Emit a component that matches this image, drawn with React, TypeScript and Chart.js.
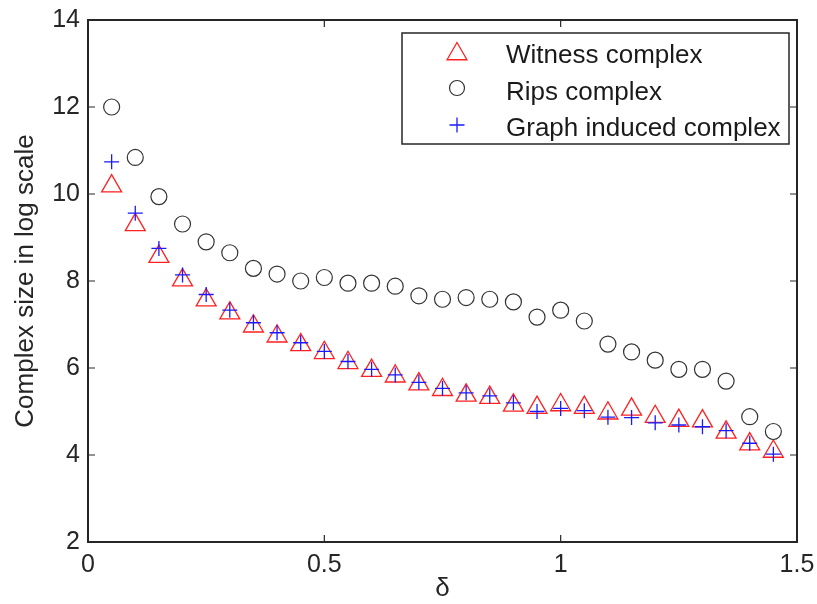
import React, { useEffect, useRef } from "react";
import { Chart, registerables } from "chart.js";

Chart.register(...registerables);

const deltas = [
  0.05, 0.1, 0.15, 0.2, 0.25, 0.3, 0.35, 0.4, 0.45, 0.5, 0.55, 0.6, 0.65, 0.7, 0.75,
  0.8, 0.85, 0.9, 0.95, 1.0, 1.05, 1.1, 1.15, 1.2, 1.25, 1.3, 1.35, 1.4, 1.45,
];
const witness = [
  10.18, 9.29, 8.56, 8.02, 7.56, 7.26, 6.96, 6.73, 6.53, 6.35, 6.12, 5.94, 5.81, 5.63, 5.5,
  5.37, 5.32, 5.14, 5.09, 5.15, 5.09, 4.96, 5.05, 4.88, 4.79, 4.78, 4.52, 4.25, 4.08,
];
const rips = [
  12.0, 10.84, 9.94, 9.31, 8.9, 8.65, 8.29, 8.16, 8.0, 8.08, 7.95, 7.95, 7.88, 7.66, 7.58,
  7.62, 7.58, 7.52, 7.17, 7.33, 7.08, 6.55, 6.37, 6.18, 5.97, 5.97, 5.7, 4.88, 4.54,
];
const gic = [
  10.74, 9.56, 8.75, 8.14, 7.69, 7.33, 7.04, 6.81, 6.58, 6.38, 6.15, 5.97, 5.84, 5.67, 5.53,
  5.43, 5.36, 5.2, 5.0, 5.07, 5.02, 4.87, 4.86, 4.74, 4.69, 4.65, 4.56, 4.27, 4.02,
];
const seriesLabels = ["Witness complex", "Rips complex", "Graph induced complex"];
const xTicks = [0, 0.5, 1, 1.5];
const yTicks = [2, 4, 6, 8, 10, 12, 14];

const FONT = "'Liberation Sans', Arial, sans-serif";
const INK = "#262626";
const RED = "#ff2020";
const GRAY = "#333333";
const BLUE = "#1a1aff";

function drawTriangle(ctx: CanvasRenderingContext2D, x: number, y: number, r: number) {
  ctx.beginPath();
  ctx.moveTo(x, y - r);
  ctx.lineTo(x + r * Math.sin((2 * Math.PI) / 3), y - r * Math.cos((2 * Math.PI) / 3));
  ctx.lineTo(x + r * Math.sin((4 * Math.PI) / 3), y - r * Math.cos((4 * Math.PI) / 3));
  ctx.closePath();
  ctx.stroke();
}
function drawCircle(ctx: CanvasRenderingContext2D, x: number, y: number, r: number) {
  ctx.beginPath();
  ctx.arc(x, y, r, 0, Math.PI * 2);
  ctx.stroke();
}
function drawPlus(ctx: CanvasRenderingContext2D, x: number, y: number, r: number) {
  ctx.beginPath();
  ctx.moveTo(x - r, y);
  ctx.lineTo(x + r, y);
  ctx.moveTo(x, y - r);
  ctx.lineTo(x, y + r);
  ctx.stroke();
}

const framePlugin = {
  id: "frame",
  afterDatasetsDraw(chart: any) {
    const { ctx, chartArea } = chart;
    const { left, right, top, bottom } = chartArea;
    const xs = chart.scales.x;
    const ys = chart.scales.y;
    ctx.save();
    ctx.strokeStyle = INK;
    ctx.lineWidth = 2;
    ctx.strokeRect(left, top, right - left, bottom - top);
    ctx.lineWidth = 1.2;
    ctx.beginPath();
    const tl = 7;
    xTicks.forEach((v) => {
      const px = xs.getPixelForValue(v);
      ctx.moveTo(px, bottom);
      ctx.lineTo(px, bottom - tl);
      ctx.moveTo(px, top);
      ctx.lineTo(px, top + tl);
    });
    yTicks.forEach((v) => {
      const py = ys.getPixelForValue(v);
      ctx.moveTo(left, py);
      ctx.lineTo(left + tl, py);
      ctx.moveTo(right, py);
      ctx.lineTo(right - tl, py);
    });
    ctx.stroke();
    ctx.restore();
  },
};

const legendPlugin = {
  id: "boxLegend",
  afterDraw(chart: any) {
    const ctx: CanvasRenderingContext2D = chart.ctx;
    ctx.save();
    const bx = 402, by = 33, bw = 387, bh = 111;
    ctx.fillStyle = "#ffffff";
    ctx.fillRect(bx, by, bw, bh);
    ctx.strokeStyle = INK;
    ctx.lineWidth = 1.5;
    ctx.strokeRect(bx, by, bw, bh);
    const mx = 457;
    ctx.lineWidth = 1.3;
    ctx.strokeStyle = RED;
    drawTriangle(ctx, mx, 54, 11.5);
    ctx.strokeStyle = GRAY;
    ctx.lineWidth = 1.2;
    drawCircle(ctx, mx, 88, 7.5);
    ctx.strokeStyle = BLUE;
    ctx.lineWidth = 1.3;
    drawPlus(ctx, mx, 125, 7.5);
    ctx.fillStyle = "#1a1a1a";
    ctx.font = `26px ${FONT}`;
    ctx.textBaseline = "alphabetic";
    ctx.textAlign = "left";
    const baselines = [63, 99.5, 136];
    seriesLabels.forEach((s, i) => ctx.fillText(s, 506, baselines[i]));
    ctx.restore();
  },
};

export default function App() {
  const ref = useRef<HTMLCanvasElement | null>(null);
  useEffect(() => {
    if (!ref.current) return;
    const mk = (ys: number[]) => deltas.map((x, i) => ({ x, y: ys[i] }));
    const chart = new Chart(ref.current, {
      type: "scatter",
      data: {
        datasets: [
          {
            label: seriesLabels[0],
            data: mk(witness),
            pointStyle: "triangle",
            pointRadius: 11.5,
            pointHoverRadius: 11.5,
            borderColor: RED,
            backgroundColor: "rgba(0,0,0,0)",
            pointBorderWidth: 1.3,
            order: 2,
          },
          {
            label: seriesLabels[1],
            data: mk(rips),
            pointStyle: "circle",
            pointRadius: 8,
            pointHoverRadius: 8,
            borderColor: GRAY,
            backgroundColor: "rgba(0,0,0,0)",
            pointBorderWidth: 1.2,
            order: 1,
          },
          {
            label: seriesLabels[2],
            data: mk(gic),
            pointStyle: "cross",
            pointRadius: 7.5,
            pointHoverRadius: 7.5,
            borderColor: BLUE,
            backgroundColor: "rgba(0,0,0,0)",
            pointBorderWidth: 1.3,
            order: 0,
          },
        ],
      },
      options: {
        animation: false,
        responsive: false,
        devicePixelRatio: 1,
        layout: { padding: { left: 0, top: 20, right: 20, bottom: 0 } },
        plugins: {
          legend: { display: false },
          tooltip: { enabled: false },
        },
        scales: {
          x: {
            type: "linear",
            min: 0,
            max: 1.5,
            afterBuildTicks: (s: any) => {
              s.ticks = xTicks.map((v) => ({ value: v }));
            },
            afterFit: (s: any) => {
              s.height = 62;
              s.paddingLeft = 0;
              s.paddingRight = 0;
            },
            grid: { display: false, drawTicks: false },
            border: { display: false },
            ticks: {
              padding: 8,
              color: INK,
              font: { family: FONT, size: 25 },
              maxRotation: 0,
              autoSkip: false,
              callback: (v: any) => String(v),
            },
            title: {
              display: true,
              text: "δ",
              color: INK,
              font: { family: FONT, size: 26 },
              padding: { top: 0, bottom: 0 },
            },
          },
          y: {
            type: "linear",
            min: 2,
            max: 14,
            afterBuildTicks: (s: any) => {
              s.ticks = yTicks.map((v) => ({ value: v }));
            },
            afterFit: (s: any) => {
              s.width = 88;
              s.paddingTop = 0;
              s.paddingBottom = 0;
            },
            grid: { display: false, drawTicks: false },
            border: { display: false },
            ticks: {
              padding: 8,
              color: INK,
              font: { family: FONT, size: 25 },
              autoSkip: false,
              callback: (v: any) => String(v),
            },
            title: {
              display: true,
              text: "Complex size in log scale",
              color: INK,
              font: { family: FONT, size: 26 },
              padding: { top: 10, bottom: 0 },
            },
          },
        },
      },
      plugins: [framePlugin, legendPlugin],
    });
    return () => chart.destroy();
  }, []);
  return (
    <div style={{ position: "absolute", left: 0, top: 0, width: 817, height: 604, background: "#fff" }}>
      <canvas ref={ref} width={817} height={604} style={{ display: "block" }} />
    </div>
  );
}
